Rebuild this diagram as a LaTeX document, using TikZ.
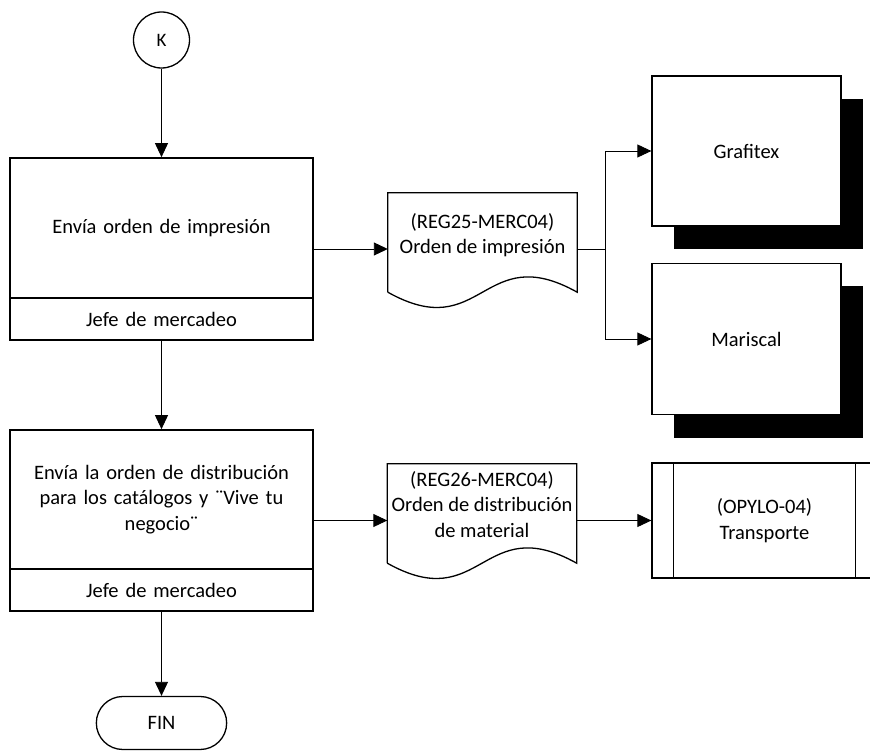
\documentclass[tikz,border=0pt]{standalone}
\usepackage{fontspec}
\setmainfont{Carlito}
\usetikzlibrary{arrows.meta,shapes.misc,shadows,fit}

\begin{document}
\begin{tikzpicture}[x=1pt,y=-1pt,
    font=\fontsize{20.5}{25.5}\selectfont,
    box/.style={draw,line width=1.3pt,fill=white,minimum width=303pt,inner sep=4pt,align=center,text width=290pt},
    doc/.style={minimum width=189pt,minimum height=99pt,inner sep=2pt,align=center,text depth=18pt},
    firm/.style={draw,line width=1.3pt,fill=white,minimum width=189pt,drop shadow={shadow xshift=22pt,shadow yshift=-23pt,fill=black,opacity=1}},
    flow/.style={line width=0.9pt,-{Triangle[length=14pt,width=13pt]}}]
    \useasboundingbox (0,0) rectangle (870,751);

    \node[draw,circle,line width=1.3pt,minimum size=56pt,inner sep=0pt,font=\fontsize{19}{22}\selectfont] (k) at (161.5,40) {K};

    \node[box,minimum height=140pt] (envia1) at (161.5,228) {Envía orden de impresión};
    \node[box,minimum height=42pt] (jefe1) at (161.5,319) {Jefe de mercadeo};
    \node[fit=(envia1)(jefe1),inner sep=0pt] (act1) {};

    \node[box,minimum height=139pt] (envia2) at (161.5,499.5) {Envía la orden de distribución\\para los catálogos y ¨Vive tu\\negocio¨};
    \node[box,minimum height=42pt] (jefe2) at (161.5,590) {Jefe de mercadeo};
    \node[fit=(envia2)(jefe2),inner sep=0pt] (act2) {};

    \node[draw,rounded rectangle,line width=1.3pt,minimum width=137pt,minimum height=53pt] (fin) at (161.5,723) {FIN};

    \node[doc] (doc1) at (482.5,242.5) {(REG25-MERC04)\\Orden de impresión};
    \node[doc] (doc2) at (482,513.5) {(REG26-MERC04)\\Orden de distribución\\de material};
    \foreach \d in {doc1,doc2}
        \draw[line width=1.3pt] (\d.south west) -- (\d.north west) -- (\d.north east) -- (\d.south east)
            .. controls ([yshift=53pt]\d.south) and ([yshift=-53pt]\d.south) .. (\d.south west);

    \node[firm,minimum height=150pt] (graf) at (746.5,151) {Grafitex};
    \node[firm,minimum height=151pt] (maris) at (746.5,339) {Mariscal};

    \node[draw,line width=1.3pt,minimum width=225pt,minimum height=115pt,align=center] (transp) at (764.5,520.5) {(OPYLO-04)\\Transporte};
    \draw[line width=1.3pt] ([xshift=22pt]transp.north west) -- ([xshift=22pt]transp.south west);
    \draw[line width=1.3pt] ([xshift=-22pt]transp.north east) -- ([xshift=-22pt]transp.south east);

    \coordinate (split) at (605,249);

    \draw[flow] (k) -- (act1);
    \draw[flow] (act1) -- (act2);
    \draw[flow] (act2) -- (fin);
    \draw[flow] (act1.east) -- (act1.east -| doc1.west);
    \draw[line width=0.9pt] (act1.east -| doc1.east) -- (split);
    \draw[flow] (split) |- (graf.west);
    \draw[flow] (split) |- (maris.west);
    \draw[flow] (act2.east) -- (act2.east -| doc2.west);
    \draw[flow] (act2.east -| doc2.east) -- (transp.west);
\end{tikzpicture}
\end{document}
